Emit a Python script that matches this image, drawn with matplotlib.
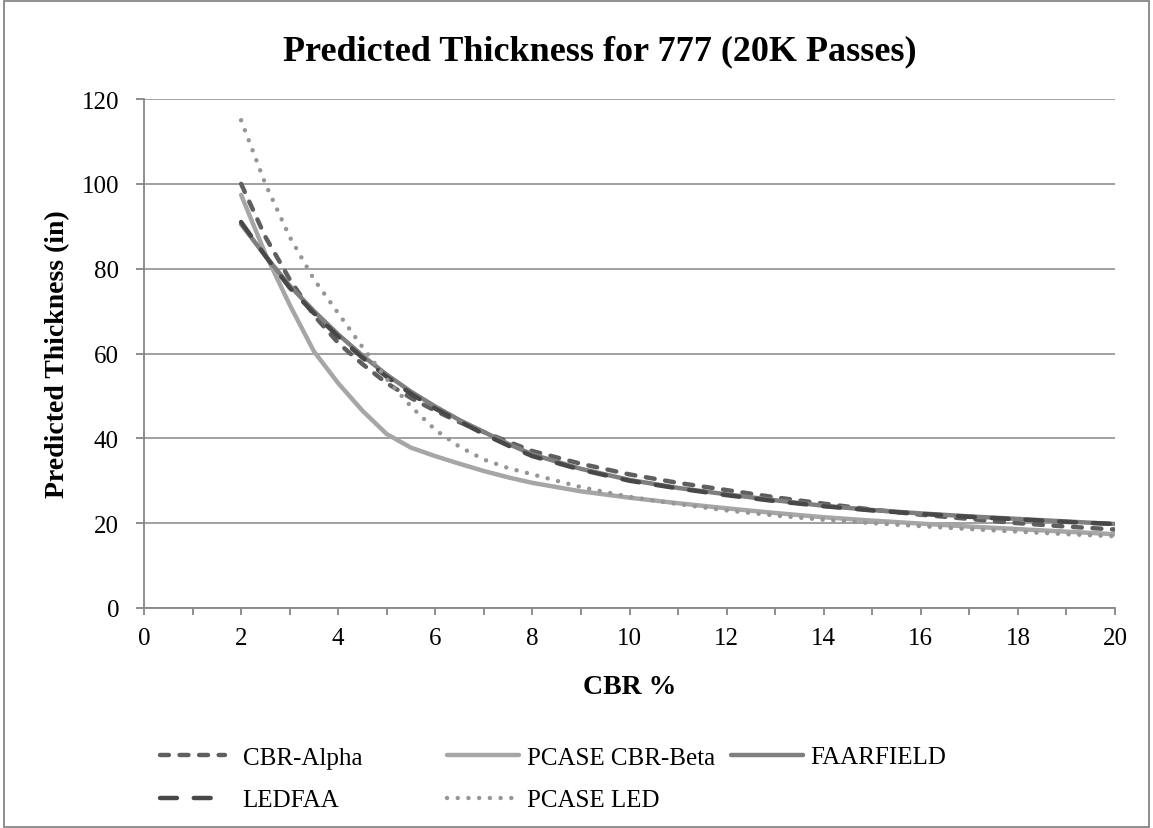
import numpy as np
import matplotlib.pyplot as plt
from matplotlib.patches import Rectangle

plt.rcParams['font.family'] = ['Liberation Serif', 'DejaVu Serif']

# CBR % values (x) and predicted thickness (in)
cbr = [2, 2.5, 3, 3.5, 4, 4.5, 5, 5.5, 6, 6.5, 7, 7.5, 8,
       9, 10, 11, 12, 13, 14, 15, 16, 17, 18, 19, 20]
cbr_alpha = [100, 87.5, 77.5, 69, 62.5, 57.5, 53, 49.5, 46.5, 43.8, 41.5, 39.2, 37,
             34, 31.5, 29.5, 27.8, 26.1, 24.6, 23.2, 22.0, 21.0, 20.0, 19.2, 18.5]
pcase_beta = [97.4, 83.5, 71.5, 60.5, 53, 46.5, 41, 37.8, 35.8, 34, 32.3, 30.8, 29.5,
              27.5, 26, 24.7, 23.5, 22.4, 21.4, 20.6, 19.9, 19.2, 18.6, 18, 17.4]
faarfield = [90.5, 83, 76, 70, 64.5, 59.5, 55, 51, 47.5, 44.3, 41.5, 38.7, 36.2,
             32.8, 30.2, 28.3, 26.8, 25.4, 24.1, 23.1, 22.3, 21.6, 21.0, 20.4, 19.8]
ledfaa = [91, 83, 75.5, 69.5, 64, 59, 54.5, 50.5, 47, 44, 41, 38.3, 35.8,
          32.6, 30, 28.2, 26.6, 25.2, 24.0, 23.0, 22.2, 21.5, 20.9, 20.3, 19.8]
pcase_led = [115, 100, 87.5, 77.5, 69.5, 61.5, 54, 47.5, 42, 38, 35, 33, 31.5,
             28.5, 26.2, 24.5, 23, 21.8, 20.8, 20, 19.3, 18.6, 18, 17.4, 16.9]

GRID = '#868686'
LW = 3.2

fig = plt.figure(figsize=(11.53, 8.29), dpi=100)
ax = fig.add_axes([144/1153, 1 - 609/829, 971/1153, 509/829])

l_alpha, = ax.plot(cbr, cbr_alpha, color='#5f5f5f', lw=LW, dashes=(2.0, 2.4),
                   dash_capstyle='round', solid_joinstyle='round', label='CBR-Alpha')
l_beta, = ax.plot(cbr, pcase_beta, color='#a6a6a6', lw=LW, solid_capstyle='round',
                  solid_joinstyle='round', label='PCASE CBR-Beta')
l_faar, = ax.plot(cbr, faarfield, color='#7f7f7f', lw=LW, solid_capstyle='round',
                  solid_joinstyle='round', label='FAARFIELD')
l_led, = ax.plot(cbr, ledfaa, color='#484848', lw=LW, dashes=(3.8, 3.8),
                 dash_capstyle='round', label='LEDFAA')
l_pled, = ax.plot(cbr, pcase_led, color='#969696', lw=LW, dashes=(0.01, 2.4),
                  dash_capstyle='round', label='PCASE LED')

ax.set_xlim(0, 20)
ax.set_ylim(0, 120)
ax.set_xticks(np.arange(0, 21, 2))
ax.set_xticks(np.arange(0, 21, 1), minor=True)
ax.set_yticks(np.arange(0, 121, 20))
ax.grid(axis='y', color=GRID, lw=1.1)
ax.set_axisbelow(True)
for s in ['top', 'right']:
    ax.spines[s].set_visible(False)
for s in ['left', 'bottom']:
    ax.spines[s].set_color(GRID)
    ax.spines[s].set_linewidth(1.3)
ax.tick_params(axis='x', which='both', direction='out', length=5, width=1.3,
               color=GRID, labelsize=18, pad=9)
ax.tick_params(axis='y', direction='out', length=6, width=1.3, color=GRID,
               labelsize=18, pad=12)

ax.set_xlabel('CBR %', fontsize=20, fontweight='bold')
ax.xaxis.set_label_coords(0.5, -0.13)
ax.set_ylabel('Predicted Thickness (in)', fontsize=20, fontweight='bold')
ax.yaxis.set_label_coords(-0.076, 0.5)

fig.text(0.52, 1 - 52/829, 'Predicted Thickness for 777 (20K Passes)',
         ha='center', va='center', fontsize=26, fontweight='bold')

# legend, three columns like the Excel one
leg_kw = dict(frameon=False, fontsize=18, loc='center left', labelspacing=0.8,
              borderpad=0, borderaxespad=0)
fig.legend(handles=[l_alpha, l_led], handlelength=2.6, handletextpad=0.7,
           bbox_to_anchor=(160/1153, 1 - 780/829), **leg_kw)
fig.legend(handles=[l_beta, l_pled], handlelength=2.9, handletextpad=0.3,
           bbox_to_anchor=(447/1153, 1 - 780/829), **leg_kw)
fig.legend(handles=[l_faar], handlelength=2.9, handletextpad=0.25,
           bbox_to_anchor=(731/1153, 1 - 758/829), **leg_kw)

fig.patches.append(Rectangle((4/1153, 1/829), 1145/1153, 826/829, fill=False,
                             edgecolor=GRID, lw=1.3, transform=fig.transFigure))

fig.savefig('out.png', dpi=100)
